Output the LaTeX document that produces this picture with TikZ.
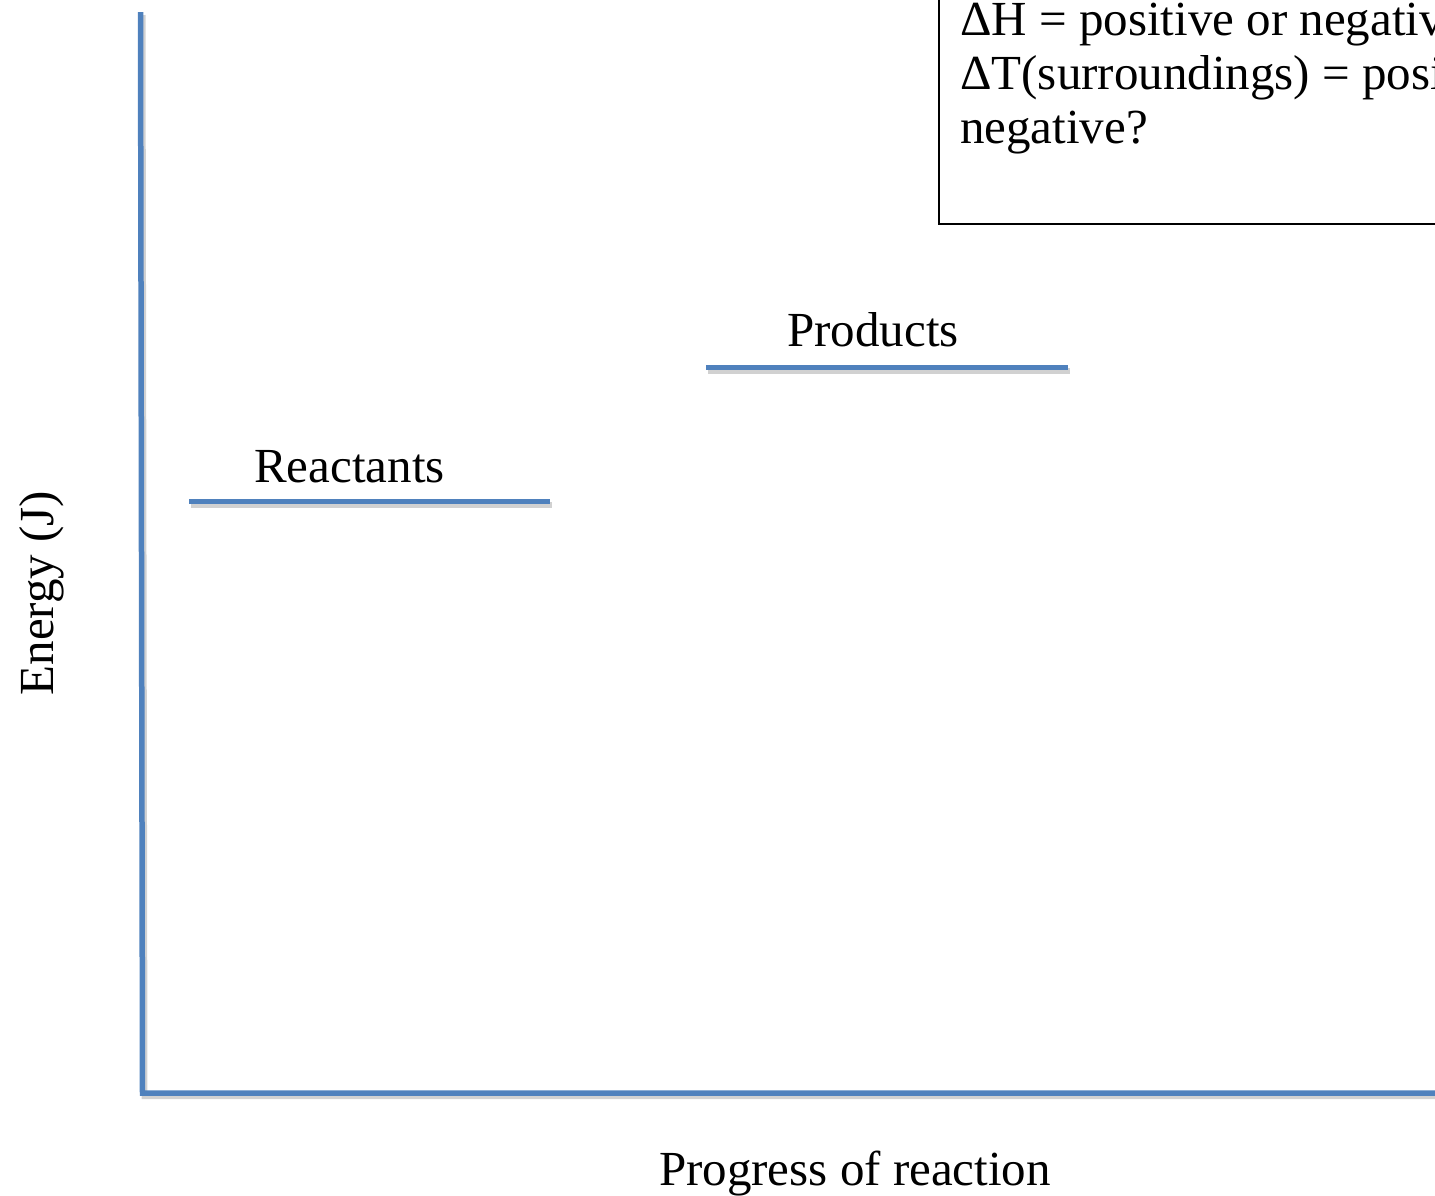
\documentclass[tikz,border=0pt]{standalone}
\usepackage{fontspec}
\setmainfont{Liberation Serif}
\usepackage{tikz}
\usetikzlibrary{calc,positioning}
\definecolor{axisblue}{HTML}{4F81BD}
\tikzset{
  bigtxt/.style={font=\fontsize{49}{54}\selectfont, inner sep=0pt},
  bluebar/.style={line width=5.5pt, axisblue, line cap=butt,
    preaction={draw=black!18, line width=6pt, transform canvas={shift={(2,3)}}}},
}
\begin{document}
\begin{tikzpicture}[x=1pt,y=-1pt]
\useasboundingbox (0,0) rectangle (1435,1195);
\clip (0,0) rectangle (1435,1195);

% Axes
\coordinate (top) at (140.5,12);
\coordinate (origin) at (142.5,1093);
\coordinate (right) at (1440,1093);
\draw[bluebar] (top) -- (origin) -- (right);

% Energy levels
\coordinate (reactL) at (189,501.5);
\coordinate (reactR) at (550,501.5);
\coordinate (prodL) at (706,367.5);
\coordinate (prodR) at (1068,367.5);
\draw[bluebar, line width=4.5pt] (reactL) -- (reactR);
\draw[bluebar, line width=4.5pt] (prodL) -- (prodR);

% Labels
\node[bigtxt, anchor=base] (reactlbl) at (349.5,482) {Reactants};
\node[bigtxt, anchor=base] (prodlbl) at (873,346) {Products};
\node[bigtxt, anchor=base] (xlbl) at (855,1185) {Progress of reaction};
\node[bigtxt, anchor=base, rotate=90] (ylbl) at (53,593) {Energy (J)};

% Question box (runs off the page)
\draw[line width=2pt] (939,-10) -- (939,224) -- (1445,224);
\node[bigtxt, anchor=base west, align=left] (question) at (960,143)
  {ΔH = positive or negative?\\
   ΔT(surroundings) = positive or\\
   negative?};
\end{tikzpicture}
\end{document}
